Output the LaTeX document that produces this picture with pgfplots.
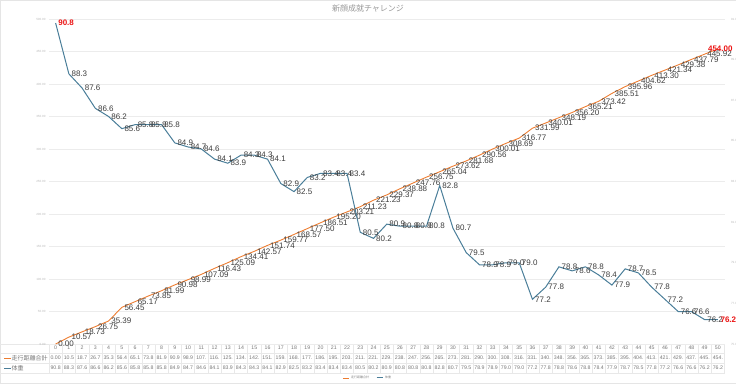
\documentclass[border=0pt]{standalone}
\usepackage{pgfplots}
\pgfplotsset{compat=1.18}
\usepackage{pgfplotstable}
\usepackage{fontspec}
\setmainfont{Liberation Sans}
\newfontfamily\cjk{Noto Sans CJK JP}
\definecolor{orangeline}{RGB}{237,125,49}
\definecolor{blueline}{RGB}{74,126,153}
\definecolor{lbl}{RGB}{60,60,60}
\definecolor{tbl}{RGB}{120,120,120}
\definecolor{redlbl}{RGB}{235,20,20}

\pgfplotstableread{
x dist wt
0 0.00 90.8
1 10.57 88.3
2 18.73 87.6
3 26.75 86.6
4 35.39 86.2
5 56.45 85.6
6 65.17 85.8
7 73.85 85.8
8 81.99 85.8
9 90.98 84.9
10 98.99 84.7
11 107.09 84.6
12 116.43 84.1
13 125.09 83.9
14 134.41 84.3
15 142.57 84.3
16 151.74 84.1
17 159.77 82.9
18 168.57 82.5
19 177.50 83.2
20 186.51 83.4
21 195.20 83.4
22 203.21 83.4
23 211.23 80.5
24 221.23 80.2
25 229.37 80.9
26 238.88 80.8
27 247.76 80.8
28 256.75 80.8
29 265.04 82.8
30 273.62 80.7
31 281.68 79.5
32 290.56 78.9
33 300.01 78.9
34 308.69 79.0
35 316.77 79.0
36 331.99 77.2
37 340.01 77.8
38 348.19 78.8
39 356.20 78.6
40 365.21 78.8
41 373.42 78.4
42 385.51 77.9
43 395.96 78.7
44 404.62 78.5
45 413.30 77.8
46 421.34 77.2
47 429.38 76.6
48 437.79 76.6
49 445.92 76.2
50 454.00 76.2
}\data

\begin{document}
\begin{tikzpicture}
\path[use as bounding box] (0pt,0pt) rectangle (736pt,383pt);
\draw[gray!20, line width=0.5pt] (0.25pt,0.25pt) rectangle (735.75pt,382.75pt);

% title
\node[font=\cjk\fontsize{8}{8}\selectfont, text=gray!80] at (368pt,375pt) {新顔成就チャレンジ};

% data table lines
\foreach \yy in {30,20,10} \draw[gray!18, line width=0.4pt] (0pt,\yy pt) -- (724.5pt,\yy pt);
\draw[gray!18, line width=0.4pt] (0pt,39pt) -- (49pt,39pt);
\foreach \i in {0,...,51} \draw[gray!18, line width=0.4pt] (49pt+\i*13.245pt,39pt) -- (49pt+\i*13.245pt,9pt);

% table row keys
\draw[orangeline, line width=0.8pt] (4pt,25pt) -- (11pt,25pt);
\node[anchor=west, inner sep=0pt, font=\cjk\fontsize{6}{6}\selectfont, text=tbl] at (11.5pt,25pt) {走行距離合計};
\draw[blueline, line width=0.8pt] (4pt,15pt) -- (11pt,15pt);
\node[anchor=west, inner sep=0pt, font=\cjk\fontsize{6}{6}\selectfont, text=tbl] at (11.5pt,15pt) {体重};

\begin{axis}[
  at={(49pt,39pt)}, anchor=south west, scale only axis,
  width=675.5pt, height=325pt,
  xmin=-0.5, xmax=50.5, ymin=0, ymax=500,
  ytick={0,50,...,500},
  ymajorgrids, grid style={draw=gray!15, line width=0.5pt},
  axis line style={draw=none}, tick style={draw=none},
  /pgf/number format/assume math mode=true,
  yticklabel style={font=\fontsize{3}{3}\selectfont, text=gray!55, /pgf/number format/.cd, fixed, zerofill, precision=2},
  xtick={0,...,50},
  xticklabels={{0\\0.00\\90.8},{1\\10.5\\88.3},{2\\18.7\\87.6},{3\\26.7\\86.6},{4\\35.3\\86.2},{5\\56.4\\85.6},{6\\65.1\\85.8},{7\\73.8\\85.8},{8\\81.9\\85.8},{9\\90.9\\84.9},{10\\98.9\\84.7},{11\\107.\\84.6},{12\\116.\\84.1},{13\\125.\\83.9},{14\\134.\\84.3},{15\\142.\\84.3},{16\\151.\\84.1},{17\\159.\\82.9},{18\\168.\\82.5},{19\\177.\\83.2},{20\\186.\\83.4},{21\\195.\\83.4},{22\\203.\\83.4},{23\\211.\\80.5},{24\\221.\\80.2},{25\\229.\\80.9},{26\\238.\\80.8},{27\\247.\\80.8},{28\\256.\\80.8},{29\\265.\\82.8},{30\\273.\\80.7},{31\\281.\\79.5},{32\\290.\\78.9},{33\\300.\\78.9},{34\\308.\\79.0},{35\\316.\\79.0},{36\\331.\\77.2},{37\\340.\\77.8},{38\\348.\\78.8},{39\\356.\\78.6},{40\\365.\\78.8},{41\\373.\\78.4},{42\\385.\\77.9},{43\\395.\\78.7},{44\\404.\\78.5},{45\\413.\\77.8},{46\\421.\\77.2},{47\\429.\\76.6},{48\\437.\\76.6},{49\\445.\\76.2},{50\\454.\\76.2}},
  xticklabel style={font=\fontsize{5.2}{10}\selectfont, text=tbl, align=center, anchor=north, inner sep=0pt, yshift=-2pt},
  clip=false,
]
\addplot[orangeline, line width=0.9pt, mark=none] table[x=x,y=dist]{\data};
\addplot[draw=none, mark=none, forget plot, point meta=y,
  nodes near coords={\pgfmathprintnumber[fixed,zerofill,precision=2]{\pgfplotspointmeta}},
  every node near coord/.append style={anchor=west, font=\fontsize{8}{8}\selectfont, text=lbl, inner sep=0pt, xshift=2.5pt},
  skip coords between index={50}{51}] table[x=x,y=dist]{\data};
\addplot[draw=none, mark=none, forget plot, point meta=y,
  nodes near coords={\pgfmathprintnumber[fixed,zerofill,precision=2]{\pgfplotspointmeta}},
  every node near coord/.append style={anchor=west, font=\bfseries\fontsize{8}{8}\selectfont, text=redlbl, inner sep=0pt, xshift=-10pt},
  skip coords between index={0}{50}] table[x=x,y=dist]{\data};
\end{axis}

\begin{axis}[
  at={(49pt,39pt)}, anchor=south west, scale only axis,
  width=675.5pt, height=325pt,
  xmin=-0.5, xmax=50.5, ymin=75, ymax=91,
  ytick={75,77,...,91},
  axis y line*=right, axis x line=none,
  axis line style={draw=none}, tick style={draw=none},
  /pgf/number format/assume math mode=true,
  yticklabel style={font=\fontsize{3}{3}\selectfont, text=gray!55, xshift=3pt, /pgf/number format/.cd, fixed, zerofill, precision=1},
  clip=false,
  legend style={at={(axis description cs:0.472,-0.1046)}, anchor=center, draw=none, fill=none,
    legend columns=2, font=\cjk\fontsize{3}{3}\selectfont, text=gray,
    /tikz/every even column/.append style={column sep=5pt}, inner sep=0pt},
  legend image code/.code={\draw[#1] (0pt,0pt) -- (6pt,0pt);},
]
\addlegendimage{orangeline, line width=0.6pt}
\addlegendentry{走行距離合計}
\addplot[blueline, line width=1pt, mark=none] table[x=x,y=wt]{\data};
\addlegendentry{体重}
\addplot[draw=none, mark=none, forget plot, point meta=y,
  nodes near coords={\pgfmathprintnumber[fixed,zerofill,precision=1]{\pgfplotspointmeta}},
  every node near coord/.append style={anchor=west, font=\fontsize{8}{8}\selectfont, text=lbl, inner sep=0pt, xshift=2.5pt},
  skip coords between index={0}{1}, skip coords between index={50}{51}] table[x=x,y=wt]{\data};
\addplot[draw=none, mark=none, forget plot, point meta=y,
  nodes near coords={\pgfmathprintnumber[fixed,zerofill,precision=1]{\pgfplotspointmeta}},
  every node near coord/.append style={anchor=west, font=\bfseries\fontsize{8}{8}\selectfont, text=redlbl, inner sep=0pt, xshift=2.5pt},
  skip coords between index={1}{50}] table[x=x,y=wt]{\data};
\end{axis}
\end{tikzpicture}
\end{document}
